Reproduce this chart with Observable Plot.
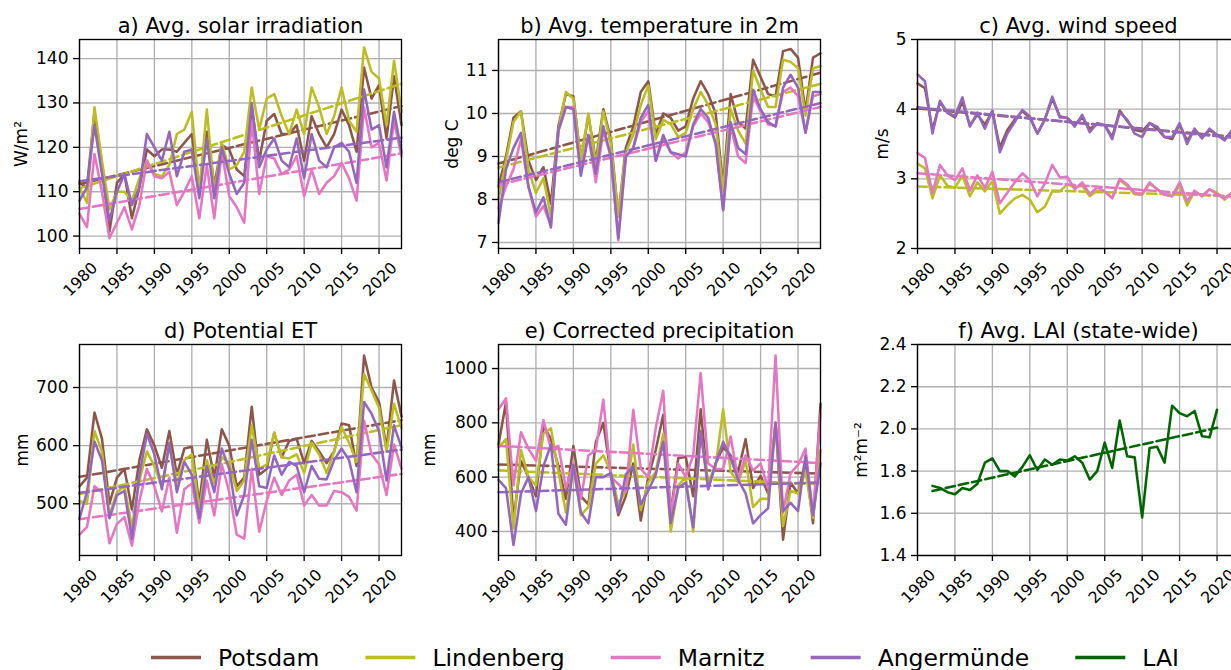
<!DOCTYPE html>
<html>
<head>
<meta charset="utf-8">
<script src="https://cdn.jsdelivr.net/npm/d3@7"></script>
<script src="https://cdn.jsdelivr.net/npm/@observablehq/plot@0.6"></script>
<style>
  html, body { margin: 0; padding: 0; background: white; }
  #root { position: relative; width: 1231px; height: 670px; overflow: hidden; font-family: "DejaVu Sans", sans-serif; }
</style>
</head>
<body>
<div id="root"></div>
<script>
// ---------------- DATA ----------------
const years = [1980,1981,1982,1983,1984,1985,1986,1987,1988,1989,1990,1991,1992,1993,1994,1995,1996,1997,1998,1999,2000,2001,2002,2003,2004,2005,2006,2007,2008,2009,2010,2011,2012,2013,2014,2015,2016,2017,2018,2019,2020,2021,2022,2023];
const laiYears = [1982,1983,1984,1985,1986,1987,1988,1989,1990,1991,1992,1993,1994,1995,1996,1997,1998,1999,2000,2001,2002,2003,2004,2005,2006,2007,2008,2009,2010,2011,2012,2013,2014,2015,2016,2017,2018,2019,2020];

const stations = ["Potsdam", "Lindenberg", "Marnitz", "Angermünde"];
const stationColors = ["#8c564b", "#bcbd22", "#e377c2", "#9467bd"];
const laiColor = "#006400";

// a) Avg. solar irradiation (W/m²)
const solarPotsdam    = [112,111,128,116,101,112,114,104,111,119.5,118,119.5,119.5,119,121,123,110.5,123.5,111.5,120.5,119.5,115,113.5,129,117,126,127.5,123,123,125,117,127,123,120,123,128.5,125,119,138,131,134,122,136,125];
const solarLindenberg = [111,107.5,129,117,106,110,110,108,113,117,114,113.5,116,123,124,128,110,128.5,110,121,115,116,119,133.5,124,131,132,127,123,128.5,123,133.5,129,123,127,133.5,126,123.5,142.5,137,135.5,125,139.5,128];
const solarMarnitz    = [105,102,118.5,110,99.5,103,106.5,101.5,107,117,113.5,113,114.5,107,110,113.5,104,116,104,119,109,106.5,103,126,109.5,118,117.5,114,115,118,109,115,109.5,112,113.5,116.5,113,108,129,120,121,112.5,126,118];
const solarAngermuende= [108,111,125,114,103.5,110,114,107,111,123,120,117,123.5,113.5,119,119.5,108.5,122,108.5,120,114,109.5,112,130,115.5,119.5,122,117,115.5,122,113,123,117,115.5,120,121,119,112,133,124,125,115.5,128,119];

// b) Avg. temperature in 2m (deg C)
const tempPotsdam    = [8.3,9.0,9.9,10.05,8.9,8.45,8.75,7.9,9.7,10.45,10.4,8.9,9.95,8.9,10.1,9.4,7.6,9.2,9.7,10.5,10.75,9.5,10.0,9.9,9.6,9.7,10.35,10.75,10.45,10.0,8.3,10.45,9.8,9.65,11.25,10.85,10.45,10.4,11.45,11.5,11.3,10.05,11.3,11.4];
const tempLindenberg = [8.0,8.9,9.8,10.05,8.7,8.15,8.5,7.6,9.6,10.5,10.35,8.9,10.0,8.8,10.05,9.3,7.6,9.1,9.5,10.2,10.65,9.4,9.85,9.75,9.45,9.55,10.1,10.5,10.2,9.75,8.2,10.1,9.6,9.3,11.0,10.55,10.15,10.15,11.25,11.2,11.05,9.95,11.05,11.1];
const tempMarnitz    = [7.8,8.3,8.7,9.4,8.3,7.6,7.85,7.4,9.6,10.15,10.15,8.6,9.5,8.4,9.6,9.0,7.05,9.0,9.2,9.8,10.05,8.9,9.4,9.1,8.95,9.1,9.7,10.0,9.8,9.3,7.75,9.7,9.0,8.85,10.4,10.05,9.75,9.7,10.5,10.6,10.4,9.55,10.4,10.45];
const tempAngermuende= [7.45,8.7,9.2,9.55,8.3,7.7,8.05,7.35,9.6,10.15,10.1,8.55,9.5,8.6,9.7,9.0,7.1,9.0,9.2,9.9,10.2,8.9,9.5,9.1,9.05,9.0,9.75,10.1,9.9,9.3,7.75,9.8,9.2,9.05,10.55,10.1,9.8,9.7,10.6,10.9,10.6,9.55,10.5,10.5];

// c) Avg. wind speed (m/s)
const windPotsdam    = [4.37,4.3,3.7,4.1,3.95,3.88,4.1,3.77,3.92,3.78,3.97,3.45,3.7,3.85,3.97,3.88,3.65,3.85,4.15,3.9,3.87,3.78,3.88,3.72,3.78,3.77,3.6,3.98,3.83,3.7,3.68,3.8,3.72,3.6,3.57,3.78,3.55,3.7,3.6,3.7,3.63,3.57,3.68,3.6];
const windLindenberg = [3.22,3.15,2.72,3.05,2.9,2.87,3.05,2.75,2.95,2.82,2.97,2.5,2.62,2.72,2.77,2.7,2.52,2.6,2.82,2.82,2.92,2.88,2.9,2.75,2.83,2.82,2.73,2.98,2.9,2.78,2.77,2.93,2.85,2.78,2.75,2.9,2.62,2.82,2.75,2.85,2.8,2.7,2.8,2.72];
const windMarnitz    = [3.37,3.3,2.8,3.2,3.05,2.98,3.15,2.83,3.05,2.87,3.1,2.65,2.8,2.95,3.08,2.98,2.75,2.93,3.2,3.02,3.03,2.85,2.95,2.78,2.88,2.82,2.72,3.0,2.92,2.8,2.78,2.95,2.85,2.77,2.75,2.95,2.68,2.83,2.75,2.85,2.78,2.72,2.8,2.72];
const windAngermuende= [4.5,4.4,3.65,4.12,3.95,3.9,4.17,3.75,3.95,3.72,3.98,3.38,3.65,3.82,3.99,3.9,3.65,3.85,4.18,3.88,3.88,3.75,3.92,3.67,3.8,3.77,3.57,3.95,3.85,3.65,3.6,3.8,3.75,3.6,3.6,3.8,3.5,3.72,3.58,3.72,3.63,3.55,3.7,3.6];

// d) Potential ET (mm)
const petPotsdam    = [530,545,657,612,500,545,560,490,575,628,600,562,625,550,595,598,500,610,545,628,600,530,545,667,550,560,622,580,608,612,570,608,590,570,590,638,635,565,755,700,675,595,712,650];
const petLindenberg = [505,500,625,590,480,520,530,460,540,590,565,530,600,535,575,585,490,575,535,580,570,522,540,635,560,568,622,580,578,585,553,605,585,553,590,632,605,572,723,695,665,590,672,630];
const petMarnitz    = [447,460,530,520,432,465,477,428,505,560,530,487,545,450,525,535,467,540,480,568,520,447,440,560,452,505,545,515,540,550,497,515,497,497,522,520,512,488,643,585,568,515,602,560];
const petAngermuende= [475,520,607,575,475,515,522,440,550,620,585,525,605,520,572,550,475,565,520,595,560,480,515,610,530,527,583,550,572,565,520,565,543,542,575,595,575,520,675,655,625,540,635,597];

// e) Corrected precipitation (mm)
const precPotsdam    = [720,875,440,660,600,530,790,740,640,520,715,530,500,730,800,610,460,530,650,440,600,700,830,470,670,675,530,850,560,650,710,680,620,740,560,605,540,800,370,580,540,660,430,870];
const precLindenberg = [710,740,410,700,600,570,760,780,620,470,640,460,490,650,680,620,500,550,720,480,580,620,760,400,570,600,400,760,580,640,850,620,580,660,490,520,520,800,420,550,540,620,450,700];
const precMarnitz    = [850,890,570,765,705,660,810,705,715,560,650,520,680,700,885,600,575,545,848,630,600,780,918,460,650,600,680,983,650,630,630,750,590,680,625,650,560,1048,470,615,645,705,460,835];
const precAngermuende= [590,560,350,540,600,475,640,720,465,425,645,470,430,600,600,615,470,610,640,500,550,610,730,430,560,580,415,770,555,650,730,670,590,540,430,460,485,800,475,505,475,680,460,650];

// f) Avg. LAI (state-wide)
const laiValues = [1.73,1.72,1.70,1.69,1.72,1.71,1.74,1.84,1.86,1.80,1.80,1.775,1.82,1.875,1.805,1.855,1.83,1.855,1.85,1.87,1.84,1.76,1.80,1.935,1.815,2.04,1.87,1.865,1.58,1.91,1.915,1.84,2.11,2.075,2.06,2.085,1.965,1.96,2.09];

// tick labels
const xTicks = [1980,1985,1990,1995,2000,2005,2010,2015,2020];
const yTicksSolar = [100,110,120,130,140];
const yTicksTemp = [7,8,9,10,11];
const yTicksWind = [2,3,4,5];
const yTicksPet = [500,600,700];
const yTicksPrec = [400,600,800,1000];
const yTicksLai = [1.4,1.6,1.8,2.0,2.2,2.4];

// ---------------- DRAWING ----------------
const root = document.getElementById("root");
const FONT = "DejaVu Sans";
const LW = 2.55;
const DASH = "9.4,4.1";

function table(xs, ys) { return xs.map((x, i) => ({year: x, value: ys[i]})); }

function panel(opts) {
  const {title, ylabel, ylabelDx, yDomain, yTicks, yFormat, series, frame} = opts;
  const mL = 90, mR = 12, mT = 45, mB = 70;
  const fw = frame[2] - frame[0], fh = frame[3] - frame[1];
  const marks = [
    Plot.gridX({ticks: xTicks, stroke: "#b0b0b0", strokeOpacity: 1, strokeWidth: 1.36}),
    Plot.gridY({ticks: yTicks, stroke: "#b0b0b0", strokeOpacity: 1, strokeWidth: 1.36})
  ];
  for (const s of series) {
    const data = table(s.x, s.y);
    marks.push(Plot.line(data, {x: "year", y: "value", stroke: s.color, strokeWidth: LW}));
    marks.push(Plot.linearRegressionY(data, {x: "year", y: "value", stroke: s.color, strokeWidth: LW, strokeDasharray: DASH, ci: 0}));
  }
  marks.push(
    Plot.frame({stroke: "black", strokeWidth: 1.36}),
    Plot.axisY({ticks: yTicks, tickSize: 6, tickPadding: 5, tickFormat: yFormat, fontSize: 17, label: null, strokeWidth: 1.36}),
    Plot.axisX({ticks: xTicks, tickSize: 6, tickFormat: () => "", label: null, strokeWidth: 1.36}),
    Plot.text(xTicks, {x: d => d, text: d => String(d), frameAnchor: "bottom", dy: 31, dx: 1, rotate: -45, textAnchor: "middle", lineAnchor: "middle", fontSize: 15.8, fill: "black"}),
    Plot.text([title], {frameAnchor: "top", dy: -7, lineAnchor: "bottom", fontSize: 21, fill: "black"}),
    Plot.text([ylabel], {frameAnchor: "left", dx: ylabelDx, rotate: -90, textAnchor: "middle", lineAnchor: "middle", fontSize: 17, fill: "black"})
  );
  const svg = Plot.plot({
    width: mL + fw + mR,
    height: mT + fh + mB,
    marginLeft: mL, marginRight: mR, marginTop: mT, marginBottom: mB,
    x: {domain: [1980, 2023], type: "linear"},
    y: {domain: yDomain, type: "linear"},
    style: {fontFamily: FONT, color: "black", background: "transparent", overflow: "visible"},
    marks
  });
  svg.style.position = "absolute";
  svg.style.left = (frame[0] - mL) + "px";
  svg.style.top = (frame[1] - mT) + "px";
  root.appendChild(svg);
}

const mk = (arrs) => arrs.map((y, i) => ({x: years, y, color: stationColors[i]}));

panel({title: "a) Avg. solar irradiation", ylabel: "W/m²", ylabelDx: -58,
  yDomain: [97.2, 144.3], yTicks: yTicksSolar, yFormat: d3.format("d"),
  series: mk([solarPotsdam, solarLindenberg, solarMarnitz, solarAngermuende]),
  frame: [79, 39, 401, 248]});

panel({title: "b) Avg. temperature in 2m", ylabel: "deg C", ylabelDx: -46,
  yDomain: [6.86, 11.72], yTicks: yTicksTemp, yFormat: d3.format("d"),
  series: mk([tempPotsdam, tempLindenberg, tempMarnitz, tempAngermuende]),
  frame: [498, 39, 820, 248]});

panel({title: "c) Avg. wind speed", ylabel: "m/s", ylabelDx: -35,
  yDomain: [2, 5], yTicks: yTicksWind, yFormat: d3.format("d"),
  series: mk([windPotsdam, windLindenberg, windMarnitz, windAngermuende]),
  frame: [917, 39, 1239, 248]});

panel({title: "d) Potential ET", ylabel: "mm", ylabelDx: -57,
  yDomain: [411, 774], yTicks: yTicksPet, yFormat: d3.format("d"),
  series: mk([petPotsdam, petLindenberg, petMarnitz, petAngermuende]),
  frame: [79, 344, 401, 555]});

panel({title: "e) Corrected precipitation", ylabel: "mm", ylabelDx: -69,
  yDomain: [311.5, 1088.5], yTicks: yTicksPrec, yFormat: d3.format("d"),
  series: mk([precPotsdam, precLindenberg, precMarnitz, precAngermuende]),
  frame: [498, 344, 820, 555]});

panel({title: "f) Avg. LAI (state-wide)", ylabel: "m²m⁻²", ylabelDx: -56,
  yDomain: [1.4, 2.4], yTicks: yTicksLai, yFormat: d3.format(".1f"),
  series: [{x: laiYears, y: laiValues, color: laiColor}],
  frame: [917, 344, 1239, 555]});

// ---------------- LEGEND ----------------
const legendNames = [...stations, "LAI"];
const legendColors = [...stationColors, laiColor];
const leg = d3.select(root).append("svg")
  .attr("width", 1231).attr("height", 40)
  .style("position", "absolute").style("left", "0px").style("top", "630px")
  .style("font-family", FONT);
let lx = 151;
legendNames.forEach((name, i) => {
  leg.append("line").attr("x1", lx).attr("x2", lx + 50).attr("y1", 27.5).attr("y2", 27.5)
    .attr("stroke", legendColors[i]).attr("stroke-width", 3.4);
  const t = leg.append("text").attr("x", lx + 67).attr("y", 35.5)
    .attr("font-size", 23.5).attr("fill", "black").text(name);
  lx += 67 + t.node().getComputedTextLength() + 46;
});
</script>
</body>
</html>
